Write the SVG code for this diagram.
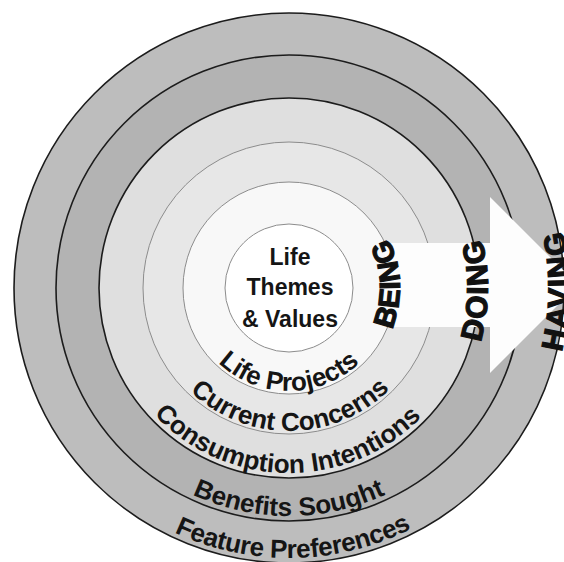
<svg xmlns="http://www.w3.org/2000/svg" xmlns:xlink="http://www.w3.org/1999/xlink" width="564" height="562" viewBox="0 0 564 562">
  <style>
    .ring-dark { stroke: #1c1c1c; stroke-width: 1.6; }
    .ring-thin { stroke: #8c8c8c; stroke-width: 1; }
    .lbl { font-family: "Liberation Sans", Arial, sans-serif; font-weight: bold; fill: #151515; }
    .core { font-size: 23px; text-anchor: middle; }
    .arc { font-size: 26px; text-anchor: middle; }
    .big { font-family: "Liberation Sans", Arial, sans-serif; font-weight: bold; fill: #111; stroke: #111; stroke-width: 1.2; text-anchor: middle; }
  </style>
  <defs>
    <path id="pLP" d="M 186 288 A 103 103 0 0 0 392 288"/>
    <path id="pCC" d="M 146 288 A 143 143 0 0 0 432 288"/>
    <path id="pCI" d="M 104 288 A 185 185 0 0 0 474 288"/>
    <path id="pBS" d="M 61 288 A 228 228 0 0 0 517 288"/>
    <path id="pFP" d="M 19 288 A 270 270 0 0 0 559 288"/>
    <path id="pBE" d="M 344.5 384.1 A 111 111 0 0 0 344.5 191.9"/>
    <path id="pDO" d="M 388.5 460.3 A 199 199 0 0 0 388.5 115.7"/>
    <path id="pHA" d="M 429 530.5 A 280 280 0 0 0 429 45.5"/>
  </defs>
  <rect width="564" height="562" fill="#ffffff"/>

  <g id="feature-preferences">
    <circle cx="289" cy="288" r="275" fill="#bdbdbd" class="ring-dark"/>
  </g>
  <g id="benefits-sought">
    <circle cx="289" cy="288" r="233" fill="#b3b3b3" class="ring-dark"/>
  </g>
  <g id="consumption-intentions">
    <circle cx="289" cy="288" r="190" fill="#dfdfdf" class="ring-dark"/>
  </g>
  <g id="current-concerns">
    <circle cx="289" cy="288" r="146" fill="#e7e7e7" class="ring-thin"/>
  </g>
  <g id="life-projects">
    <circle cx="289" cy="288" r="106" fill="#f8f8f8" class="ring-thin"/>
  </g>
  <g id="life-themes">
    <circle cx="289" cy="288" r="64" fill="#ffffff" class="ring-thin"/>
  </g>

  <g id="connectors">
    <polygon id="arrow" points="385,243 490,243 490,197 578,285 490,373 490,327 385,327" fill="#fdfdfd"/>
  </g>

  <g id="labels">
    <text class="lbl core" x="290" y="265">Life</text>
    <text class="lbl core" x="290" y="295">Themes</text>
    <text class="lbl core" x="290" y="327">&amp; Values</text>

    <text class="lbl arc"><textPath href="#pLP" xlink:href="#pLP" startOffset="50%">Life Projects</textPath></text>
    <text class="lbl arc"><textPath href="#pCC" xlink:href="#pCC" startOffset="50.3%">Current Concerns</textPath></text>
    <text class="lbl arc"><textPath href="#pCI" xlink:href="#pCI" startOffset="49.7%">Consumption Intentions</textPath></text>
    <text class="lbl arc"><textPath href="#pBS" xlink:href="#pBS" startOffset="50%">Benefits Sought</textPath></text>
    <text class="lbl arc" style="letter-spacing:-0.25px"><textPath href="#pFP" xlink:href="#pFP" startOffset="50.5%">Feature Preferences</textPath></text>

    <text class="big" font-size="29" letter-spacing="0.5"><textPath href="#pBE" xlink:href="#pBE" startOffset="52%">BEING</textPath></text>
    <text class="big" font-size="30" letter-spacing="1.5"><textPath href="#pDO" xlink:href="#pDO" startOffset="49.5%">DOING</textPath></text>
    <text class="big" font-size="30" letter-spacing="1.5"><textPath href="#pHA" xlink:href="#pHA" startOffset="49.5%">HAVING</textPath></text>
  </g>
</svg>
